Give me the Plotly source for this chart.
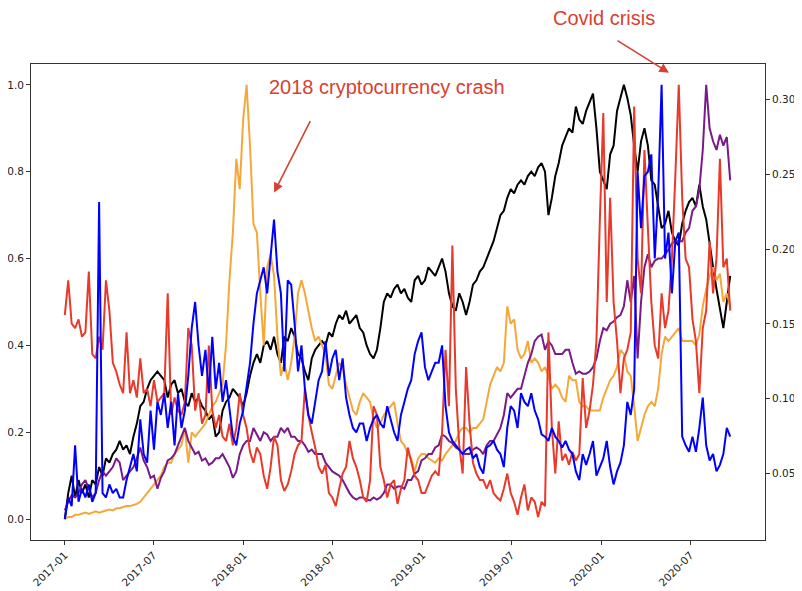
import pandas as pd
import plotly.graph_objects as go

# weekly observations, 2017-01-01 .. 2020-09-20
dates = pd.date_range("2017-01-01", periods=195, freq="7D")

black = [
    0.00, 0.06, 0.10, 0.05, 0.09, 0.06, 0.08, 0.05, 0.09, 0.08,
    0.12, 0.10, 0.14, 0.13, 0.15, 0.16, 0.18, 0.16, 0.17, 0.15,
    0.19, 0.22, 0.26, 0.27, 0.30, 0.32, 0.33, 0.34, 0.33, 0.32,
    0.28, 0.31, 0.32, 0.29, 0.30, 0.27, 0.26, 0.29, 0.27, 0.28,
    0.26, 0.25, 0.23, 0.24, 0.19, 0.20, 0.25, 0.27, 0.28, 0.30,
    0.29, 0.28, 0.26, 0.29, 0.33, 0.36, 0.38, 0.36, 0.40, 0.41,
    0.39, 0.42, 0.38, 0.36, 0.42, 0.41, 0.44, 0.42, 0.38, 0.37,
    0.34, 0.32, 0.37, 0.39, 0.40, 0.41, 0.40, 0.43, 0.42, 0.45,
    0.47, 0.46, 0.48, 0.45, 0.46, 0.47, 0.44, 0.43, 0.40, 0.38,
    0.37, 0.39, 0.44, 0.50, 0.52, 0.51, 0.53, 0.54, 0.52, 0.53,
    0.51, 0.50, 0.55, 0.56, 0.54, 0.55, 0.58, 0.57, 0.56, 0.58,
    0.60, 0.57, 0.52, 0.49, 0.48, 0.52, 0.50, 0.47, 0.50, 0.54,
    0.55, 0.57, 0.58, 0.60, 0.62, 0.64, 0.67, 0.70, 0.71, 0.74,
    0.76, 0.75, 0.77, 0.78, 0.77, 0.79, 0.80, 0.79, 0.81, 0.82,
    0.80, 0.70, 0.74, 0.79, 0.82, 0.86, 0.88, 0.90, 0.89, 0.95,
    0.92, 0.91, 0.94, 0.96, 0.98, 0.90, 0.80, 0.78, 0.76, 0.84,
    0.86, 0.94, 0.97, 1.00, 0.97, 0.93, 0.86, 0.80, 0.87, 0.90,
    0.86, 0.78, 0.77, 0.72, 0.67, 0.68, 0.71, 0.66, 0.64, 0.63,
    0.68, 0.71, 0.73, 0.74, 0.72, 0.77, 0.72, 0.69, 0.63, 0.58,
    0.53, 0.48, 0.44, 0.50, 0.56,
]

orange = [
    0.000, 0.005, 0.005, 0.010, 0.010, 0.012, 0.015, 0.012, 0.015, 0.018,
    0.015, 0.018, 0.020, 0.022, 0.020, 0.025, 0.025, 0.028, 0.030, 0.030,
    0.032, 0.035, 0.040, 0.050, 0.060, 0.070, 0.080, 0.090, 0.100, 0.120,
    0.130, 0.130, 0.150, 0.160, 0.170, 0.210, 0.130, 0.200, 0.190, 0.200,
    0.210, 0.220, 0.240, 0.260, 0.270, 0.290, 0.310, 0.400, 0.550, 0.660,
    0.830, 0.760, 0.920, 1.000, 0.860, 0.680, 0.660, 0.520, 0.400, 0.580,
    0.610, 0.560, 0.420, 0.330, 0.360, 0.320, 0.360, 0.420, 0.520, 0.550,
    0.520, 0.480, 0.440, 0.410, 0.420, 0.400, 0.380, 0.310, 0.300, 0.330,
    0.360, 0.350, 0.310, 0.280, 0.250, 0.240, 0.270, 0.290, 0.280, 0.270,
    0.230, 0.210, 0.220, 0.240, 0.250, 0.260, 0.270, 0.220, 0.180, 0.170,
    0.150, 0.140, 0.110, 0.140, 0.150, 0.150, 0.140, 0.135, 0.130, 0.140,
    0.135, 0.150, 0.160, 0.170, 0.180, 0.200, 0.210, 0.210, 0.200, 0.210,
    0.210, 0.220, 0.230, 0.270, 0.310, 0.330, 0.350, 0.340, 0.360, 0.490,
    0.450, 0.460, 0.390, 0.370, 0.380, 0.410, 0.360, 0.370, 0.360, 0.340,
    0.350, 0.330, 0.300, 0.310, 0.300, 0.280, 0.270, 0.330, 0.320, 0.320,
    0.270, 0.260, 0.260, 0.250, 0.250, 0.250, 0.250, 0.280, 0.300, 0.320,
    0.330, 0.350, 0.390, 0.380, 0.340, 0.330, 0.260, 0.180, 0.210, 0.240,
    0.260, 0.270, 0.260, 0.300, 0.380, 0.420, 0.410, 0.420, 0.430, 0.440,
    0.410, 0.410, 0.410, 0.410, 0.400, 0.425, 0.490, 0.530, 0.560, 0.580,
    0.550, 0.565, 0.500, 0.520, 0.490,
]

red = [
    0.47, 0.55, 0.45, 0.44, 0.46, 0.42, 0.43, 0.57, 0.38, 0.37,
    0.42, 0.39, 0.55, 0.48, 0.36, 0.34, 0.31, 0.29, 0.43, 0.29,
    0.32, 0.28, 0.37, 0.29, 0.30, 0.26, 0.32, 0.27, 0.28, 0.29,
    0.52, 0.24, 0.28, 0.25, 0.24, 0.27, 0.44, 0.40, 0.25, 0.29,
    0.22, 0.24, 0.40, 0.25, 0.21, 0.24, 0.19, 0.18, 0.22, 0.17,
    0.21, 0.29, 0.24, 0.21, 0.155, 0.13, 0.165, 0.15, 0.10, 0.07,
    0.12, 0.19, 0.17, 0.09, 0.065, 0.08, 0.11, 0.15, 0.17, 0.18,
    0.30, 0.24, 0.20, 0.165, 0.12, 0.105, 0.125, 0.06, 0.05, 0.03,
    0.07, 0.105, 0.12, 0.18, 0.14, 0.12, 0.09, 0.05, 0.04, 0.09,
    0.26, 0.24, 0.12, 0.09, 0.05, 0.08, 0.09, 0.035, 0.07, 0.09,
    0.165, 0.135, 0.10, 0.09, 0.06, 0.06, 0.08, 0.10, 0.11, 0.10,
    0.20, 0.39, 0.26, 0.63, 0.30, 0.17, 0.105, 0.35, 0.22, 0.13,
    0.105, 0.09, 0.09, 0.07, 0.09, 0.06, 0.05, 0.043, 0.07, 0.105,
    0.06, 0.04, 0.01, 0.05, 0.08, 0.02, 0.05, 0.04, 0.005, 0.04,
    0.03, 0.43, 0.21, 0.105, 0.225, 0.135, 0.15, 0.125, 0.155, 0.135,
    0.15, 0.325, 0.21, 0.25, 0.31, 0.41, 0.69, 0.935, 0.50, 0.74,
    0.50, 0.41, 0.29, 0.37, 0.39, 0.43, 0.95, 0.60, 0.52, 0.85,
    0.67, 0.50, 0.40, 0.37, 0.52, 0.44, 0.48, 0.60, 0.79, 1.00,
    0.74, 0.60, 0.58, 0.46, 0.41, 0.29, 0.44, 0.48, 0.64, 0.52,
    0.60, 0.83, 0.58, 0.60, 0.48,
]

blue = [
    0.00, 0.05, 0.03, 0.17, 0.04, 0.07, 0.05, 0.08, 0.04, 0.06,
    0.73, 0.06, 0.05, 0.08, 0.06, 0.07, 0.05, 0.05, 0.09, 0.12,
    0.15, 0.11, 0.23, 0.15, 0.13, 0.25, 0.16, 0.27, 0.24, 0.29,
    0.21, 0.27, 0.17, 0.29, 0.21, 0.25, 0.33, 0.44, 0.50, 0.40,
    0.33, 0.39, 0.29, 0.42, 0.30, 0.36, 0.27, 0.32, 0.25, 0.19,
    0.17, 0.22, 0.25, 0.30, 0.36, 0.45, 0.52, 0.55, 0.58, 0.52,
    0.60, 0.69, 0.57, 0.52, 0.34, 0.55, 0.54, 0.45, 0.34, 0.40,
    0.30, 0.24, 0.22, 0.27, 0.32, 0.34, 0.41, 0.33, 0.37, 0.39,
    0.32, 0.37, 0.28, 0.24, 0.21, 0.20, 0.22, 0.22, 0.18, 0.21,
    0.23, 0.24, 0.22, 0.21, 0.26, 0.23, 0.20, 0.18, 0.24, 0.27,
    0.30, 0.32, 0.38, 0.41, 0.43, 0.35, 0.32, 0.34, 0.36, 0.36,
    0.40, 0.26, 0.20, 0.18, 0.17, 0.16, 0.15, 0.16, 0.165, 0.14,
    0.15, 0.12, 0.105, 0.165, 0.17, 0.18, 0.16, 0.15, 0.12, 0.21,
    0.26, 0.25, 0.21, 0.29, 0.27, 0.26, 0.29, 0.25, 0.23, 0.195,
    0.19, 0.18, 0.21, 0.19, 0.18, 0.165, 0.18, 0.16, 0.15, 0.11,
    0.09, 0.15, 0.125, 0.15, 0.18, 0.10, 0.12, 0.14, 0.18, 0.12,
    0.08, 0.11, 0.13, 0.17, 0.27, 0.24, 0.30, 0.80, 0.67, 0.79,
    0.80, 0.84, 0.60, 0.75, 1.00, 0.60, 0.66, 0.52, 0.64, 0.66,
    0.19, 0.17, 0.155, 0.19, 0.155, 0.21, 0.28, 0.17, 0.135, 0.15,
    0.11, 0.125, 0.15, 0.21, 0.19,
]

purple = [
    0.02, 0.04, 0.055, 0.05, 0.06, 0.08, 0.09, 0.07, 0.05, 0.06,
    0.09, 0.11, 0.10, 0.11, 0.12, 0.14, 0.13, 0.09, 0.10, 0.11,
    0.12, 0.14, 0.165, 0.135, 0.12, 0.095, 0.10, 0.07, 0.095, 0.11,
    0.135, 0.14, 0.15, 0.17, 0.19, 0.21, 0.18, 0.165, 0.15, 0.155,
    0.135, 0.14, 0.125, 0.13, 0.14, 0.14, 0.15, 0.135, 0.12, 0.095,
    0.11, 0.15, 0.17, 0.18, 0.18, 0.21, 0.195, 0.18, 0.20, 0.195,
    0.18, 0.19, 0.19, 0.21, 0.20, 0.21, 0.19, 0.19, 0.18, 0.18,
    0.17, 0.155, 0.16, 0.15, 0.15, 0.15, 0.13, 0.12, 0.11, 0.105,
    0.10, 0.09, 0.075, 0.06, 0.05, 0.045, 0.05, 0.05, 0.045, 0.043,
    0.05, 0.045, 0.05, 0.06, 0.08, 0.08, 0.07, 0.075, 0.075, 0.07,
    0.09, 0.09, 0.105, 0.11, 0.135, 0.14, 0.15, 0.15, 0.165, 0.17,
    0.195, 0.19, 0.18, 0.175, 0.165, 0.16, 0.15, 0.15, 0.15, 0.16,
    0.165, 0.16, 0.15, 0.17, 0.18, 0.18, 0.195, 0.21, 0.24, 0.29,
    0.28, 0.29, 0.30, 0.30, 0.33, 0.36, 0.38, 0.41, 0.42, 0.425,
    0.39, 0.41, 0.40, 0.38, 0.38, 0.38, 0.39, 0.39, 0.36, 0.335,
    0.34, 0.335, 0.335, 0.34, 0.35, 0.37, 0.41, 0.44, 0.435, 0.45,
    0.455, 0.465, 0.47, 0.49, 0.55, 0.50, 0.56, 0.37, 0.50, 0.58,
    0.61, 0.58, 0.595, 0.60, 0.60, 0.61, 0.62, 0.635, 0.64, 0.64,
    0.64, 0.66, 0.67, 0.71, 0.72, 0.76, 0.85, 1.00, 0.90, 0.87,
    0.85, 0.885, 0.86, 0.88, 0.78,
]

for s in (black, orange, red, blue, purple):
    assert len(s) == len(dates)

x_tick_values = ["2017-01-01", "2017-07-01", "2018-01-01", "2018-07-01",
                 "2019-01-01", "2019-07-01", "2020-01-01", "2020-07-01"]
x_tick_labels = ["2017-01", "2017-07", "2018-01", "2018-07",
                 "2019-01", "2019-07", "2020-01", "2020-07"]
left_ticks = [0.0, 0.2, 0.4, 0.6, 0.8, 1.0]
right_ticks = [0.05, 0.10, 0.15, 0.20, 0.25, 0.30]

series = [
    ("black", black, "#000000"),
    ("orange", orange, "#f5a83a"),
    ("purple", purple, "#7a1a88"),
    ("red", red, "#e8392a"),
    ("blue", blue, "#0000ff"),
]

fig = go.Figure()
for name, vals, col in series:
    fig.add_trace(go.Scatter(x=dates, y=vals, mode="lines", name=name,
                             line=dict(color=col, width=2),
                             showlegend=False))
# carrier for the secondary (right) axis
fig.add_trace(go.Scatter(x=[], y=[], yaxis="y2", showlegend=False,
                         hoverinfo="skip"))

axis_font = dict(family="DejaVu Sans", size=10.5, color="#222222")
frame = dict(showline=True, linecolor="#333333", linewidth=1, mirror=True,
             ticks="outside", ticklen=4, tickcolor="#333333",
             showgrid=False, zeroline=False, tickfont=axis_font,
             automargin=False)

# the page body adds an 8px offset, so the figure is 8px smaller each way
fig.update_layout(
    width=794, height=583,
    margin=dict(l=23, r=36.5, t=56, b=51),
    paper_bgcolor="white", plot_bgcolor="white",
    xaxis=dict(range=["2016-10-24", "2020-11-30"], tickvals=x_tick_values,
               ticktext=x_tick_labels, tickangle=-45, **frame),
    yaxis=dict(range=[-0.048, 1.048], tickvals=left_ticks,
               tickformat=".1f", **frame),
    yaxis2=dict(range=[0.0056, 0.3236], tickvals=right_ticks,
                tickformat=".2f", overlaying="y", side="right",
                showline=False, ticks="outside", ticklen=4,
                tickcolor="#333333", showgrid=False, zeroline=False,
                tickfont=axis_font, automargin=False),
)

ann_color = "#d9412f"
ann_font = dict(family="Liberation Sans, Arial", size=20, color=ann_color)
fig.add_annotation(x="2018-10-20", y=0.995, xref="x", yref="y",
                   text="2018 cryptocurrency crash", showarrow=False,
                   xanchor="center", yanchor="middle", font=ann_font)
fig.add_annotation(x="2018-03-04", y=0.752, xref="x", yref="y", text="",
                   showarrow=True, arrowhead=2, arrowsize=1.2, arrowwidth=1.6,
                   arrowcolor=ann_color, ax=37, ay=-73)
fig.add_annotation(x=0.780, y=1.097, xref="paper", yref="paper",
                   text="Covid crisis", showarrow=False,
                   xanchor="center", yanchor="middle", font=ann_font)
fig.add_annotation(x="2020-05-18", y=1.028, xref="x", yref="y", text="",
                   showarrow=True, arrowhead=2, arrowsize=1.2, arrowwidth=1.6,
                   arrowcolor=ann_color, ax=-53, ay=-33)

fig.write_html("out.html")
